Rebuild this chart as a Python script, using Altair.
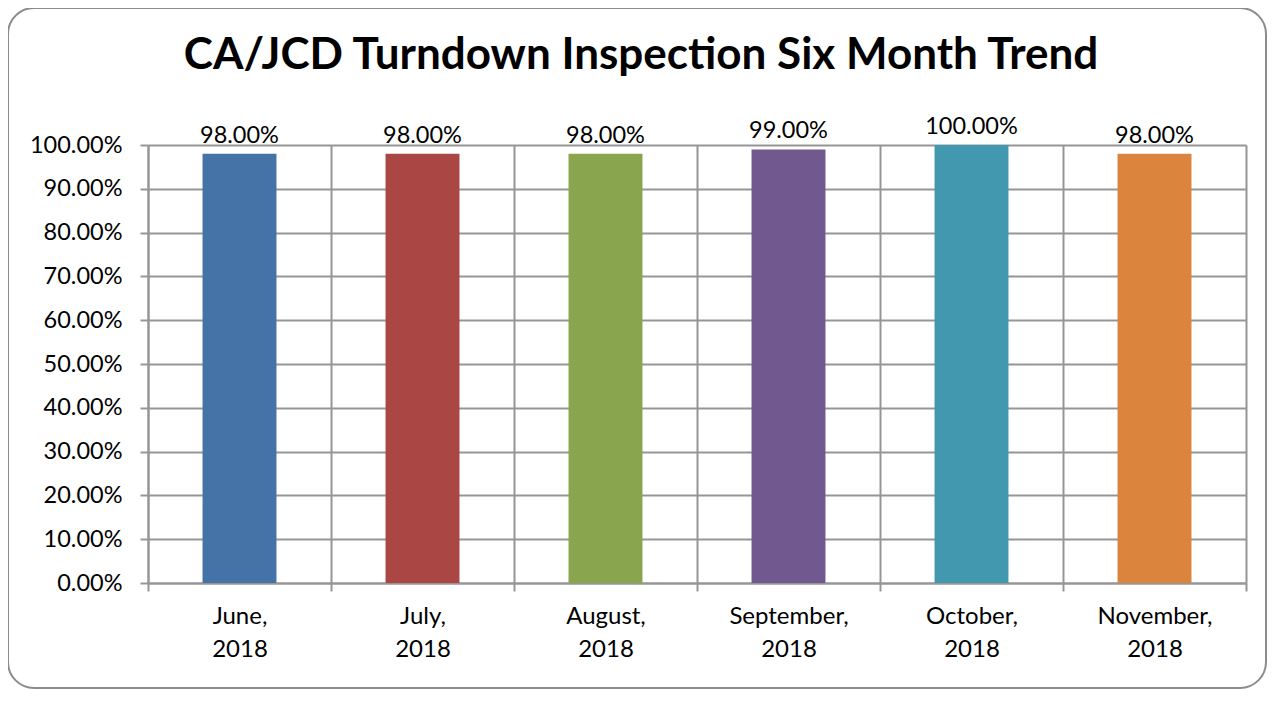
import altair as alt
import pandas as pd

months = ["June, 2018", "July, 2018", "August, 2018", "September, 2018", "October, 2018", "November, 2018"]
values = [0.98, 0.98, 0.98, 0.99, 1.00, 0.98]
colors = ["#4572A7", "#AA4643", "#89A54E", "#71588F", "#4198AF", "#DB843D"]
y_ticks = [0, 0.1, 0.2, 0.3, 0.4, 0.5, 0.6, 0.7, 0.8, 0.9, 1.0]

df = pd.DataFrame({"month": months, "value": values})

FONT = "Lato"
GRID = "#969696"

x_enc = alt.X(
    "month:N",
    sort=months,
    title=None,
    scale=alt.Scale(paddingInner=0, paddingOuter=0),
    axis=alt.Axis(
        grid=True,
        tickBand="extent",
        gridColor=GRID,
        gridWidth=2,
        domainColor=GRID,
        domainWidth=2,
        tickColor=GRID,
        tickWidth=2,
        tickSize=8,
        labelAngle=0,
        labelExpr="split(datum.label, ' ')",
        labelFont=FONT,
        labelFontSize=24,
        labelColor="#000000",
        labelLineHeight=33,
        labelPadding=13,
        labelBaseline="top",
    ),
)

y_enc = alt.Y(
    "value:Q",
    title=None,
    scale=alt.Scale(domain=[0, 1]),
    axis=alt.Axis(
        values=y_ticks,
        format=".2%",
        grid=True,
        gridColor=GRID,
        gridWidth=2,
        domainColor=GRID,
        domainWidth=2,
        tickColor=GRID,
        tickWidth=2,
        tickSize=8,
        labelFont=FONT,
        labelFontSize=23.5,
        labelColor="#000000",
        labelPadding=18,
    ),
)

bars = alt.Chart(df).mark_bar(width=alt.RelativeBandSize(0.404)).encode(
    x=x_enc,
    y=y_enc,
    color=alt.Color("month:N", sort=months, scale=alt.Scale(domain=months, range=colors), legend=None),
)

labels = alt.Chart(df).mark_text(
    font=FONT, fontSize=23.5, color="#000000", baseline="alphabetic", dy=-11
).encode(
    x=alt.X("month:N", sort=months),
    y="value:Q",
    text=alt.Text("value:Q", format=".2%"),
)

frame = alt.Chart(alt.Data(values=[{"a": 1}])).mark_rect(
    fill=None, stroke="#8c8c8c", strokeWidth=2, cornerRadius=26
).encode(
    x=alt.value(-140), x2=alt.value(1118), y=alt.value(-137), y2=alt.value(543)
)

chart = alt.layer(frame, bars, labels).properties(
    width=1098,
    height=438,
    padding={"left": 140, "top": 137, "right": 22, "bottom": 107},
    autosize=alt.AutoSizeParams(type="none"),
    title=alt.TitleParams(
        "CA/JCD Turndown Inspection Six Month Trend",
        font=FONT,
        fontSize=44,
        fontWeight="bold",
        color="#000000",
        anchor="middle",
        baseline="alphabetic",
        dx=-56,
        offset=-106,
    ),
).configure_view(stroke=GRID, strokeWidth=2).configure(background="white")

chart.save("out.html", embed_options={"renderer": "svg", "actions": False})
